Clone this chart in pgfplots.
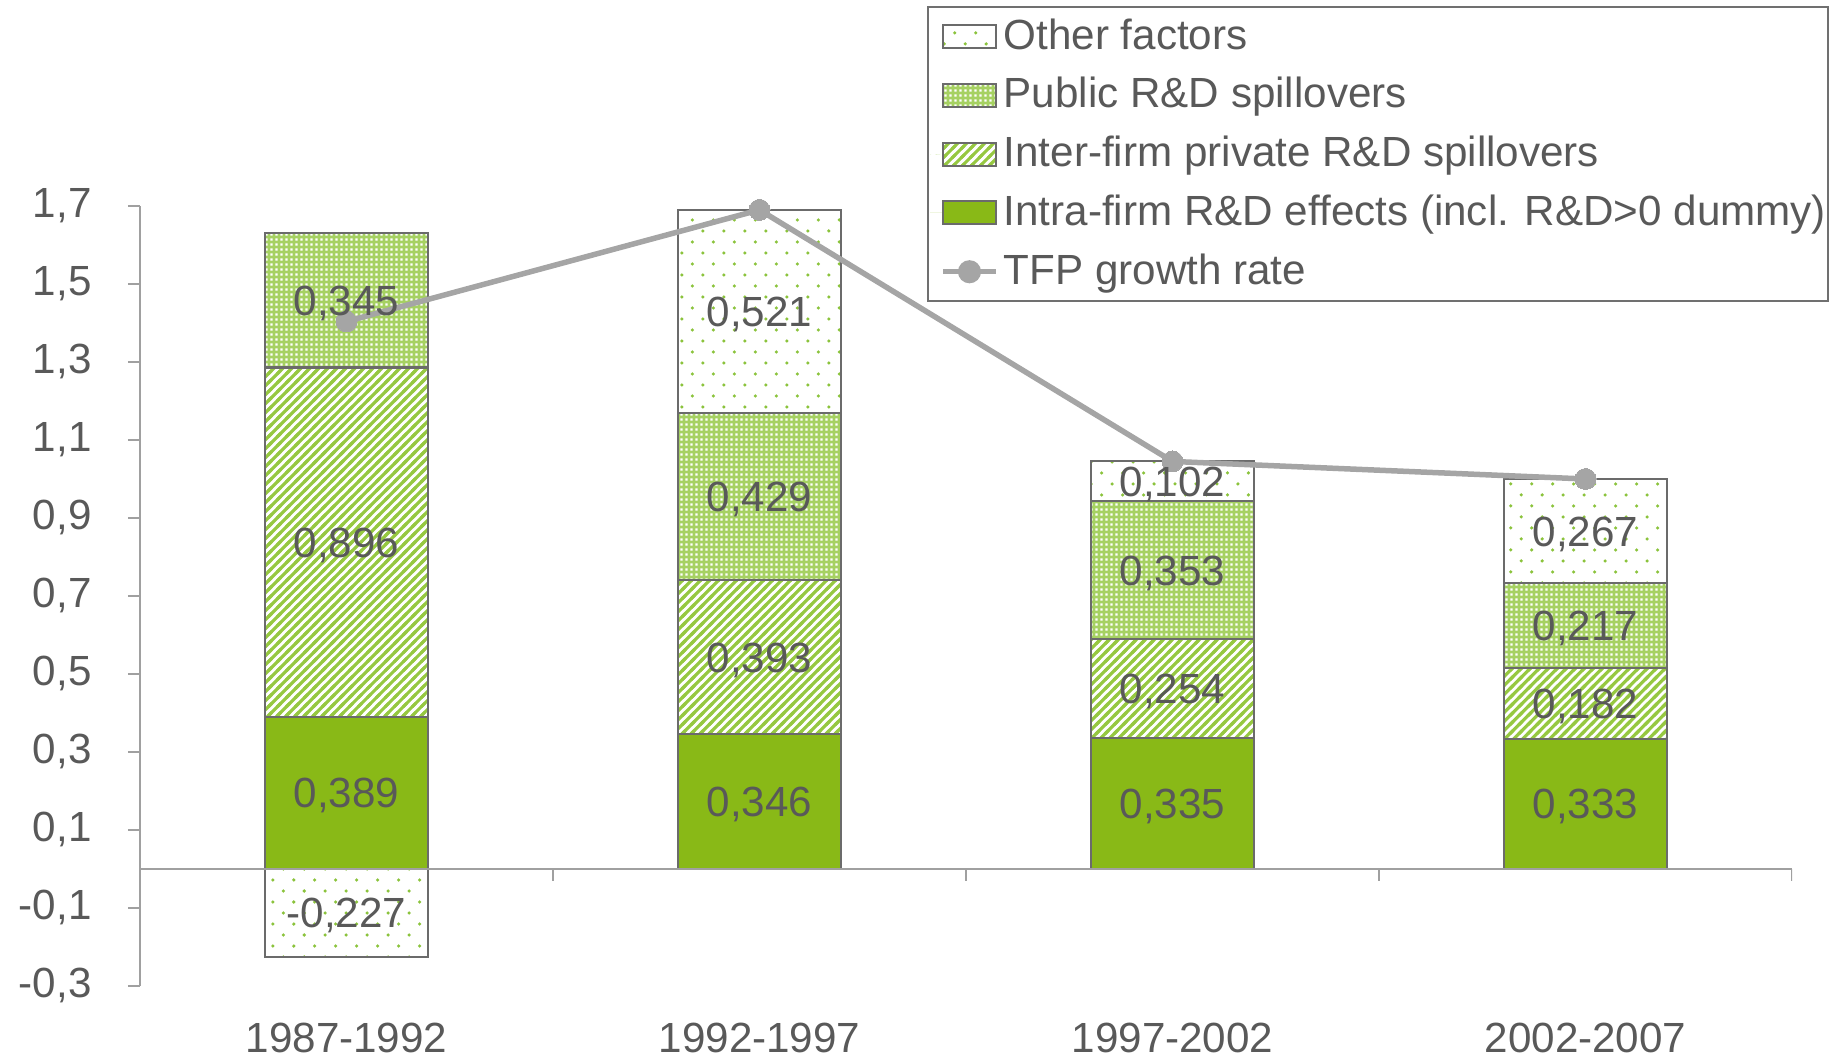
\documentclass[border=0pt]{standalone}
\usepackage{fontspec}
\setmainfont{Liberation Sans}
\usepackage{pgfplots}
\pgfplotsset{compat=1.18}
\usetikzlibrary{patterns}

\definecolor{textgray}{HTML}{595959}
\definecolor{axisgray}{HTML}{A0A0A0}
\definecolor{barline}{HTML}{6B6B6B}
\definecolor{legline}{HTML}{707070}
\definecolor{intragreen}{RGB}{137,185,23}
\definecolor{stripegreen}{RGB}{150,200,65}
\definecolor{publicgreen}{RGB}{166,209,98}
\definecolor{dotgreen}{RGB}{139,195,60}
\definecolor{tfpgray}{HTML}{A5A5A5}

% diagonal stripes
\pgfdeclarepatternformonly{nelines}{\pgfqpoint{-1pt}{-1pt}}{\pgfqpoint{3.56pt}{3.56pt}}{\pgfqpoint{2.56pt}{2.56pt}}{%
  \pgfsetlinewidth{0.9pt}%
  \pgfpathmoveto{\pgfqpoint{-0.5pt}{-0.5pt}}%
  \pgfpathlineto{\pgfqpoint{3.06pt}{3.06pt}}%
  \pgfusepath{stroke}}
% sparse staggered dots
\pgfdeclarepatternformonly{sparsedots}{\pgfqpoint{-1pt}{-1pt}}{\pgfqpoint{7pt}{7.3pt}}{\pgfqpoint{5.97pt}{6.26pt}}{%
  \pgfpathcircle{\pgfqpoint{0pt}{0pt}}{0.5pt}%
  \pgfpathcircle{\pgfqpoint{2.985pt}{3.13pt}}{0.5pt}%
  \pgfusepath{fill}}
% fine dot grid
\pgfdeclarepatternformonly{finedots}{\pgfqpoint{0pt}{0pt}}{\pgfqpoint{1.42pt}{1.42pt}}{\pgfqpoint{1.42pt}{1.42pt}}{%
  \pgfpathrectangle{\pgfqpoint{0.36pt}{0.36pt}}{\pgfqpoint{0.7pt}{0.7pt}}%
  \pgfusepath{fill}}

\pgfplotsset{
  boxlegend/.style={legend image code/.code={%
    \path[draw=none] (0,0) -- (1.3mm,0);
    \draw[##1] (1.3mm,-1.15mm) rectangle (6.6mm,1.15mm);}},
  publiclegend/.style={legend image code/.code={%
    \path[draw=none] (0,0) -- (1.3mm,0);
    \draw[draw=barline, line width=0.6pt, fill=publicgreen, postaction={pattern=finedots, pattern color=white}] (1.3mm,-1.15mm) rectangle (6.6mm,1.15mm);}},
  tfplegend/.style={legend image code/.code={%
    \path[draw=none] (0,0) -- (1.3mm,0);
    \draw[tfpgray, line width=0.55mm] (1.3mm,0) -- (6.6mm,0);
    \fill[tfpgray] (3.95mm,0) circle (1.05mm);}},
  frame/.style={scale only axis, width=165.2mm, height=78mm,
    xmin=-0.5, xmax=3.5, ymin=-0.3, ymax=1.7},
}

\begin{document}
\begin{tikzpicture}[font=\fontsize{12}{14.4}\selectfont]
% ---- stacked bars and axes ----
\begin{axis}[
  frame,
  ybar stacked, bar width=16.3mm,
  axis y line*=left, axis x line*=bottom,
  x axis line style={draw=none},
  y axis line style={axisgray, line width=0.6pt},
  xtick={0,1,2,3},
  xticklabels={1987-1992,1992-1997,1997-2002,2002-2007},
  xtick style={draw=none},
  ytick={-0.3,-0.1,0.1,0.3,0.5,0.7,0.9,1.1,1.3,1.5,1.7},
  ytick style={axisgray, line width=0.6pt},
  tick align=outside, major tick length=1.2mm,
  yticklabel style={/pgf/number format/.cd, use comma, fixed, fixed zerofill, precision=1, assume math mode=true, /tikz/.cd, xshift=-2.4mm, text=textgray},
  xticklabel style={anchor=base, yshift=-5.45mm, text=textgray},
]
\addplot[fill=intragreen, draw=barline, line width=0.6pt]
  coordinates {(0,0.389) (1,0.346) (2,0.335) (3,0.333)};
\addplot[pattern=nelines, pattern color=stripegreen, draw=barline, line width=0.6pt]
  coordinates {(0,0.896) (1,0.393) (2,0.254) (3,0.182)};
\addplot[fill=publicgreen, draw=barline, line width=0.6pt, postaction={pattern=finedots, pattern color=white}]
  coordinates {(0,0.345) (1,0.429) (2,0.353) (3,0.217)};
\addplot[pattern=sparsedots, pattern color=dotgreen, draw=barline, line width=0.6pt]
  coordinates {(0,0) (1,0.521) (2,0.102) (3,0.267)};
\end{axis}
% ---- overlay: negative bar, TFP line, value labels, legend ----
\begin{axis}[
  frame, axis lines=none,
  ybar, bar width=16.3mm, bar shift=0pt,
  legend style={at={(1.0224,1.2558)}, anchor=north east, draw=legline, line width=0.6pt,
    inner xsep=0.2mm, inner ysep=0pt, row sep=0pt, text=textgray,
    font=\fontsize{12}{14.4}\selectfont,
    nodes={inner sep=0pt, minimum height=5.88mm},
    /tikz/every odd column/.append style={column sep=0.5mm}},
  legend cell align=left,
]
\addplot[forget plot, pattern=sparsedots, pattern color=dotgreen, draw=barline, line width=0.6pt]
  coordinates {(0,-0.227)};
% zero line and category separators
\draw[axisgray, line width=0.6pt] (axis cs:-0.5,0) -- (axis cs:3.5,0);
\draw[axisgray, line width=0.6pt] (axis cs:0.5,0) -- ++(0pt,-1.2mm);
\draw[axisgray, line width=0.6pt] (axis cs:1.5,0) -- ++(0pt,-1.2mm);
\draw[axisgray, line width=0.6pt] (axis cs:2.5,0) -- ++(0pt,-1.2mm);
\draw[axisgray, line width=0.6pt] (axis cs:3.5,0) -- ++(0pt,-1.2mm);
\addplot[forget plot, sharp plot, draw=tfpgray, line width=0.55mm,
  mark=*, mark size=1.05mm, mark options={fill=tfpgray, draw=tfpgray, line width=0pt}]
  coordinates {(0,1.403) (1,1.689) (2,1.044) (3,0.999)};
\addplot[forget plot, only marks, mark=*, mark size=0pt,
  mark options={draw=none, fill=none},
  point meta=explicit symbolic, nodes near coords,
  every node near coord/.append style={anchor=center, yshift=-0.3mm, text=textgray, font=\fontsize{12}{14.4}\selectfont}]
  table[x=x, y=y, meta=label] {
x y label
0 0.1945 0,389
0 0.837 0,896
0 1.4575 0,345
0 -0.1135 -0,227
1 0.173 0,346
1 0.5425 0,393
1 0.9535 0,429
1 1.4285 0,521
2 0.1675 0,335
2 0.462 0,254
2 0.7655 0,353
2 0.993 0,102
3 0.1665 0,333
3 0.424 0,182
3 0.6235 0,217
3 0.8655 0,267
};
\addlegendimage{boxlegend, pattern=sparsedots, pattern color=dotgreen, draw=barline, line width=0.6pt}
\addlegendentry{Other factors}
\addlegendimage{publiclegend}
\addlegendentry{Public R\&D spillovers}
\addlegendimage{boxlegend, pattern=nelines, pattern color=stripegreen, draw=barline, line width=0.6pt}
\addlegendentry{Inter-firm private R\&D spillovers}
\addlegendimage{boxlegend, fill=intragreen, draw=barline, line width=0.6pt}
\addlegendentry{Intra-firm R\&D effects (incl. R\&D>0 dummy)}
\addlegendimage{tfplegend}
\addlegendentry{TFP growth rate}
\end{axis}
\pgfresetboundingbox
\path ([shift={(-14mm,-7.04mm)}]current axis.south west) rectangle ([shift={(3.9mm,20.56mm)}]current axis.north east);
\end{tikzpicture}
\end{document}
